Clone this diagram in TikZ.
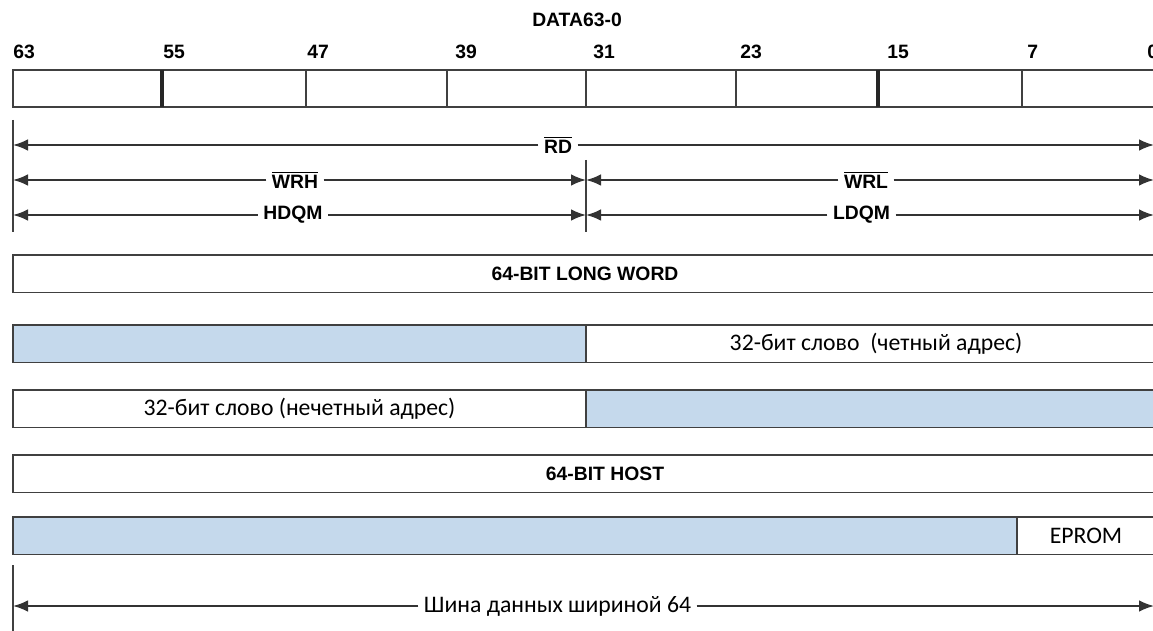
\documentclass[tikz,border=0pt]{standalone}
\usepackage{fontspec}
\setmainfont{Liberation Sans}
\newfontfamily\cyrfont{Carlito}
\usetikzlibrary{positioning,arrows.meta}
\definecolor{wordblue}{RGB}{197,217,236}
\tikzset{
  every node/.style={font=\bfseries\fontsize{11}{13}\selectfont},
  cell/.style={
    draw=black!75, line width=1pt, anchor=north west,
    minimum height=0.75cm, inner sep=0pt, outer sep=0pt
  },
  divln/.style={draw=black!75, line width=1pt},
  thickdiv/.style={draw=black!85, line width=2pt},
  bound/.style={draw=black!75, line width=1pt},
  sig/.style={inner sep=3pt},
  arr/.style={-{Latex[length=3mm,width=2.3mm]}, line width=0.9pt, draw=black!80},
  ru/.style={font=\cyrfont\fontsize{13.5}{15}\selectfont}
}
\newcommand{\ovl}[1]{\ensuremath{\overline{\mbox{#1}}}}

\begin{document}
\begin{tikzpicture}

\useasboundingbox (0,0) rectangle (23.06,-12.62);

% bus title and bit numbers
\node (title) at (11.54,-0.40) {DATA63-0};
\foreach \b/\x in {63/0.26, 55/3.26, 47/6.14, 39/9.10, 31/11.86,
                   23/14.80, 15/17.74, 7/20.54, 0/22.94}
  \node[anchor=west, inner sep=0pt] (b\b) at (\x,-1.04) {\b};

% data register
\node[cell, minimum width=23cm, minimum height=0.74cm] (reg) at (0.26,-1.40) {};
\foreach \x in {6.12, 8.94, 11.72, 14.72, 20.44}
  \draw[divln] (reg.north west) ++({\x-0.26},0) -- ++(0,-0.74);
\foreach \x in {3.24, 17.56}
  \draw[thickdiv] (reg.north west) ++({\x-0.26},0) -- ++(0,-0.74);

% strobe lines
\coordinate (lft) at (0.26,-2.40);
\coordinate (lfb) at (0.26,-4.64);
\coordinate (mid) at (11.72,-3.20);
\coordinate (midb) at (11.72,-4.64);
\coordinate (rend) at (23.08,0);
\draw[bound] (lft) -- (lfb);
\draw[bound] (mid) -- (midb);

\node[sig] (rd) at (11.16,-2.90) {\ovl{RD}};
\draw[arr] (rd) -- (rd -| lft);
\draw[arr] (rd) -- (rd -| rend);

\node[sig] (wrh) at (5.90,-3.60) {\ovl{WRH}};
\draw[arr] (wrh) -- (wrh -| lft);
\draw[arr] (wrh) -- (wrh -| mid);
\node[sig] (wrl) at (17.32,-3.60) {\ovl{WRL}};
\draw[arr] (wrl) -- (wrl -| mid);
\draw[arr] (wrl) -- (wrl -| rend);

\node[sig] (hdqm) at (5.86,-4.30) {HDQM};
\draw[arr] (hdqm) -- (hdqm -| lft);
\draw[arr] (hdqm) -- (hdqm -| mid);
\node[sig] (ldqm) at (17.23,-4.30) {LDQM};
\draw[arr] (ldqm) -- (ldqm -| mid);
\draw[arr] (ldqm) -- (ldqm -| rend);

% word rows
\node[cell, minimum width=23cm] (lword) at (0.26,-5.10) {};
\node (lwtxt) at (11.70,-5.47) {64-BIT LONG WORD};

\node[cell, fill=wordblue, minimum width=11.46cm] (even1) at (0.26,-6.50) {};
\node[cell, ru, anchor=west, minimum width=11.6cm, right=0pt of even1] (even2)
  {32-бит слово\ \ (четный адрес)};

\node[cell, ru, minimum width=11.46cm] (odd1) at (0.26,-7.80)
  {32-бит слово (нечетный адрес)};
\node[cell, fill=wordblue, anchor=west, minimum width=11.6cm, right=0pt of odd1] (odd2) {};

\node[cell, minimum width=23cm] (host) at (0.26,-9.10) {};
\node (hosttxt) at (12.10,-9.47) {64-BIT HOST};

\node[cell, fill=wordblue, minimum width=20.08cm] (flash1) at (0.26,-10.34) {};
\node[cell, anchor=west, minimum width=3cm, right=0pt of flash1] (eprom) {};
\node[ru] (epromtxt) at (21.72,-10.72) {EPROM};

% bus width
\coordinate (bt) at (0.26,-11.30);
\coordinate (bb) at (0.26,-12.70);
\draw[bound] (bt) -- (bb);
\node[ru, inner sep=3pt] (bus) at (11.15,-12.12) {Шина данных шириной 64};
\draw[arr] (bus) -- (bus -| bt);
\draw[arr] (bus) -- (bus -| rend);

\end{tikzpicture}
\end{document}
